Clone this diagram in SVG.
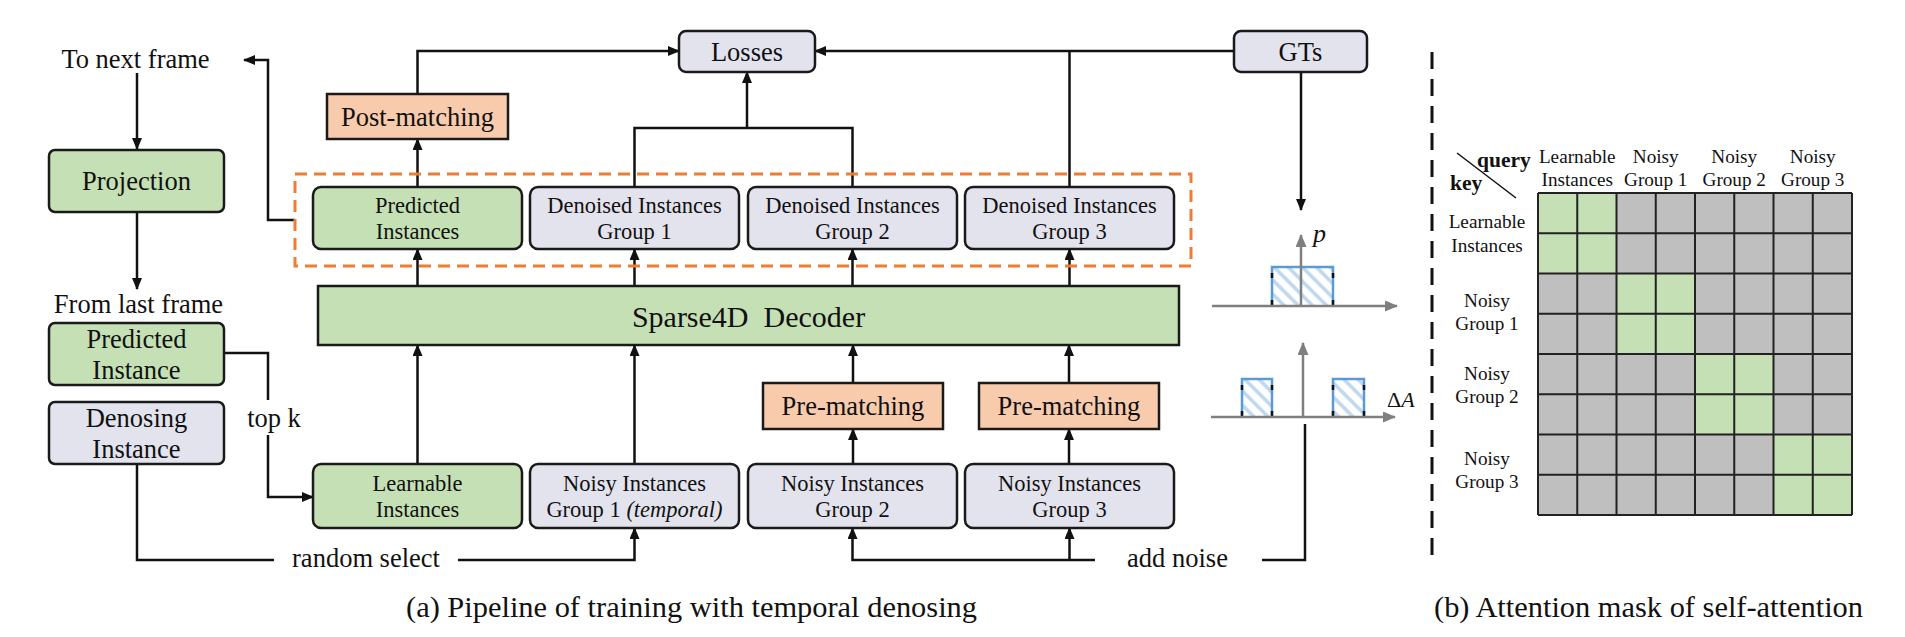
<svg xmlns="http://www.w3.org/2000/svg" width="1905" height="637" viewBox="0 0 1905 637">
<defs>
<style>
text { font-family: "Liberation Serif", "Times New Roman", serif; fill: #111; }
.t { font-size: 26.5px; text-anchor: middle; }
.s { font-size: 22.5px; text-anchor: middle; }
.m { font-size: 19.2px; text-anchor: middle; }
.b { font-size: 21.5px; font-weight: bold; }
.cap { font-size: 29px; }
.box { stroke: #1a1a1a; stroke-width: 2.5; }
.g { fill: #c5e0b4; }
.o { fill: #f8cbad; }
.l { fill: #e3e3ee; }
.ln { fill: none; stroke: #111; stroke-width: 2.5; }
.arr { marker-end: url(#ah); }
.ax { fill: none; stroke: #7f7f7f; stroke-width: 2.5; marker-end: url(#ahg); }
.blue { fill: none; stroke: #5b9bd5; stroke-width: 2.5; }
.tick { stroke: #111; stroke-width: 2.5; }
.grid { fill: none; stroke: #222; stroke-width: 2; }
</style>
<marker id="ah" viewBox="0 0 12 10" markerWidth="12" markerHeight="10" refX="11" refY="5" orient="auto" markerUnits="userSpaceOnUse">
<path d="M0,0 L12,5 L0,10 z" fill="#111"/>
</marker>
<marker id="ahg" viewBox="0 0 13 11" markerWidth="13" markerHeight="11" refX="12" refY="5.5" orient="auto" markerUnits="userSpaceOnUse">
<path d="M0,0 L13,5.5 L0,11 z" fill="#7f7f7f"/>
</marker>
<pattern id="hatch" patternUnits="userSpaceOnUse" width="10" height="10" patternTransform="rotate(-45)">
<rect width="10" height="10" fill="#ffffff"/>
<line x1="2" y1="0" x2="2" y2="10" stroke="#bdd7ee" stroke-width="3.5"/>
</pattern>
</defs>
<rect width="1905" height="637" fill="#ffffff"/>

<!-- connectors -->
<g id="connectors">
<path class="ln arr" d="M137,73 V149"/>
<path class="ln arr" d="M137,212 V289"/>
<path class="ln arr" d="M295,220 H268 V60 H244"/>
<path class="ln arr" d="M417.5,187 V139"/>
<path class="ln arr" d="M417.5,94 V51 H679"/>
<path class="ln" d="M634.5,187 V128 H852.5 V187"/>
<path class="ln arr" d="M747,128 V72"/>
<path class="ln" d="M1069.5,187 V51"/>
<path class="ln arr" d="M1234,51 H815"/>
<path class="ln arr" d="M1301,72 V210"/>
<path class="ln arr" d="M417.5,286 V249"/>
<path class="ln arr" d="M634.5,286 V249"/>
<path class="ln arr" d="M852.5,286 V249"/>
<path class="ln arr" d="M1069.5,286 V249"/>
<path class="ln arr" d="M417.5,464 V345"/>
<path class="ln arr" d="M634.5,464 V345"/>
<path class="ln arr" d="M853,464 V429"/>
<path class="ln arr" d="M853,383 V345"/>
<path class="ln arr" d="M1069,464 V429"/>
<path class="ln arr" d="M1069,383 V345"/>
<path class="ln" d="M224,353 H268 V400"/>
<path class="ln arr" d="M268,435 V497 H313"/>
<path class="ln" d="M137,464 V560 H274"/>
<path class="ln arr" d="M458,560 H634.5 V528"/>
<path class="ln arr" d="M1095,560 H852.5 V528"/>
<path class="ln arr" d="M1069.5,560 V528"/>
<path class="ln" d="M1262,560 H1305 V424"/>
<path fill="none" stroke="#ed7d31" stroke-width="3" stroke-dasharray="12 7" d="M295,174 H1191 V266 H295 Z"/>
</g>

<!-- left column -->
<g id="to-next-frame"><text class="t" x="135.5" y="68">To next frame</text></g>
<g id="projection">
<rect class="box g" x="49" y="150" width="175" height="62" rx="6"/>
<text class="t" x="136.5" y="190">Projection</text>
</g>
<g id="from-last-frame"><text class="t" x="138.5" y="313">From last frame</text></g>
<g id="predicted-instance">
<rect class="box g" x="49" y="323" width="175" height="62" rx="6"/>
<text class="t" x="136.5" y="348">Predicted</text>
<text class="t" x="136.5" y="379">Instance</text>
</g>
<g id="denosing-instance">
<rect class="box l" x="49" y="402" width="175" height="62" rx="6"/>
<text class="t" x="136.5" y="427">Denosing</text>
<text class="t" x="136.5" y="458">Instance</text>
</g>
<g id="label-topk"><text class="t" x="274" y="427">top k</text></g>
<g id="label-random"><text class="t" x="366" y="567">random select</text></g>
<g id="label-noise"><text class="t" x="1177.5" y="567">add noise</text></g>

<!-- top -->
<g id="losses">
<rect class="box l" x="679" y="31" width="136" height="41" rx="7"/>
<text class="t" x="747" y="61">Losses</text>
</g>
<g id="gts">
<rect class="box l" x="1234" y="31" width="133" height="41" rx="7"/>
<text class="t" x="1300.5" y="61">GTs</text>
</g>
<g id="post-matching">
<rect class="box o" x="327" y="94" width="181" height="45"/>
<text class="t" x="417.5" y="126">Post-matching</text>
</g>

<!-- outputs -->
<g id="predicted-instances">
<rect class="box g" x="313" y="187" width="209" height="62" rx="8"/>
<text class="s" x="417.5" y="213">Predicted</text>
<text class="s" x="417.5" y="239">Instances</text>
</g>
<g id="denoised-1">
<rect class="box l" x="530" y="187" width="209" height="62" rx="8"/>
<text class="s" x="634.5" y="213">Denoised Instances</text>
<text class="s" x="634.5" y="239">Group 1</text>
</g>
<g id="denoised-2">
<rect class="box l" x="748" y="187" width="209" height="62" rx="8"/>
<text class="s" x="852.5" y="213">Denoised Instances</text>
<text class="s" x="852.5" y="239">Group 2</text>
</g>
<g id="denoised-3">
<rect class="box l" x="965" y="187" width="209" height="62" rx="8"/>
<text class="s" x="1069.5" y="213">Denoised Instances</text>
<text class="s" x="1069.5" y="239">Group 3</text>
</g>

<g id="decoder">
<rect class="box g" x="318" y="286" width="861" height="59"/>
<text x="748.5" y="327" style="font-size:30px;text-anchor:middle">Sparse4D&#160; Decoder</text>
</g>

<g id="pre-matching-1">
<rect class="box o" x="763" y="383" width="180" height="46"/>
<text class="t" x="853" y="415">Pre-matching</text>
</g>
<g id="pre-matching-2">
<rect class="box o" x="979" y="383" width="180" height="46"/>
<text class="t" x="1069" y="415">Pre-matching</text>
</g>

<!-- inputs -->
<g id="learnable-instances">
<rect class="box g" x="313" y="464" width="209" height="64" rx="8"/>
<text class="s" x="417.5" y="491">Learnable</text>
<text class="s" x="417.5" y="517">Instances</text>
</g>
<g id="noisy-1">
<rect class="box l" x="530" y="464" width="209" height="64" rx="8"/>
<text class="s" x="634.5" y="491">Noisy Instances</text>
<text class="s" x="634.5" y="517">Group 1 <tspan font-style="italic">(temporal)</tspan></text>
</g>
<g id="noisy-2">
<rect class="box l" x="748" y="464" width="209" height="64" rx="8"/>
<text class="s" x="852.5" y="491">Noisy Instances</text>
<text class="s" x="852.5" y="517">Group 2</text>
</g>
<g id="noisy-3">
<rect class="box l" x="965" y="464" width="209" height="64" rx="8"/>
<text class="s" x="1069.5" y="491">Noisy Instances</text>
<text class="s" x="1069.5" y="517">Group 3</text>
</g>

<!-- distribution charts -->
<g id="chart-p">
<rect x="1272" y="267" width="61" height="39" fill="url(#hatch)"/>
<path class="blue" d="M1272,306 V267 H1333 V306"/>
<path class="tick" d="M1272,273 V278 M1272,300 V306 M1333,273 V278 M1333,300 V306"/>
<path class="ax" d="M1212,306 H1397"/>
<path class="ax" d="M1301,306 V235"/>
<text x="1313" y="242" style="font-size:26px;font-style:italic">p</text>
</g>
<g id="chart-delta">
<rect x="1242" y="379" width="30" height="38" fill="url(#hatch)"/>
<rect x="1333" y="379" width="31" height="38" fill="url(#hatch)"/>
<path class="blue" d="M1242,417 V379 H1272 V417 M1333,417 V379 H1364 V417"/>
<path class="tick" d="M1242,385 V390 M1242,411 V417 M1272,385 V390 M1272,411 V417 M1333,385 V390 M1333,411 V417 M1364,385 V390 M1364,411 V417"/>
<path class="ax" d="M1211,417 H1395"/>
<path class="ax" d="M1303,417 V343"/>
<text x="1387" y="407" style="font-size:22px">Δ<tspan font-style="italic">A</tspan></text>
</g>

<g id="divider">
<path d="M1432,52 V565" stroke="#111" stroke-width="3" stroke-dasharray="17 10" fill="none"/>
</g>

<!-- attention mask -->
<g id="attention-mask">
<rect x="1538" y="193" width="314" height="322" fill="#bfbfbf"/>
<rect x="1538" y="193" width="78.5" height="80.5" fill="#c5e0b4"/>
<rect x="1616.5" y="273.5" width="78.5" height="80.5" fill="#c5e0b4"/>
<rect x="1695" y="354" width="78.5" height="80.5" fill="#c5e0b4"/>
<rect x="1773.5" y="434.5" width="78.5" height="80.5" fill="#c5e0b4"/>
<path class="grid" d="M1538,193 V515 M1577.25,193 V515 M1616.5,193 V515 M1655.75,193 V515 M1695,193 V515 M1734.25,193 V515 M1773.5,193 V515 M1812.75,193 V515 M1852,193 V515 M1538,193 H1852 M1538,233.25 H1852 M1538,273.5 H1852 M1538,313.75 H1852 M1538,354 H1852 M1538,394.25 H1852 M1538,434.5 H1852 M1538,474.75 H1852 M1538,515 H1852"/>
<path d="M1457,153 L1516,198" stroke="#111" stroke-width="1.5"/>
<text class="b" x="1477" y="167">query</text>
<text class="b" x="1450" y="190">key</text>
<text class="m" x="1577.25" y="163">Learnable</text>
<text class="m" x="1577.25" y="186">Instances</text>
<text class="m" x="1655.75" y="163">Noisy</text>
<text class="m" x="1655.75" y="186">Group 1</text>
<text class="m" x="1734.25" y="163">Noisy</text>
<text class="m" x="1734.25" y="186">Group 2</text>
<text class="m" x="1812.75" y="163">Noisy</text>
<text class="m" x="1812.75" y="186">Group 3</text>
<text class="m" x="1487" y="228">Learnable</text>
<text class="m" x="1487" y="252">Instances</text>
<text class="m" x="1487" y="307">Noisy</text>
<text class="m" x="1487" y="330">Group 1</text>
<text class="m" x="1487" y="380">Noisy</text>
<text class="m" x="1487" y="403">Group 2</text>
<text class="m" x="1487" y="465">Noisy</text>
<text class="m" x="1487" y="488">Group 3</text>
</g>

<g id="captions">
<text class="cap" x="406" y="617" textLength="571" lengthAdjust="spacingAndGlyphs">(a) Pipeline of training with temporal denosing</text>
<text class="cap" x="1434" y="617" textLength="429" lengthAdjust="spacingAndGlyphs">(b) Attention mask of self-attention</text>
</g>
</svg>
